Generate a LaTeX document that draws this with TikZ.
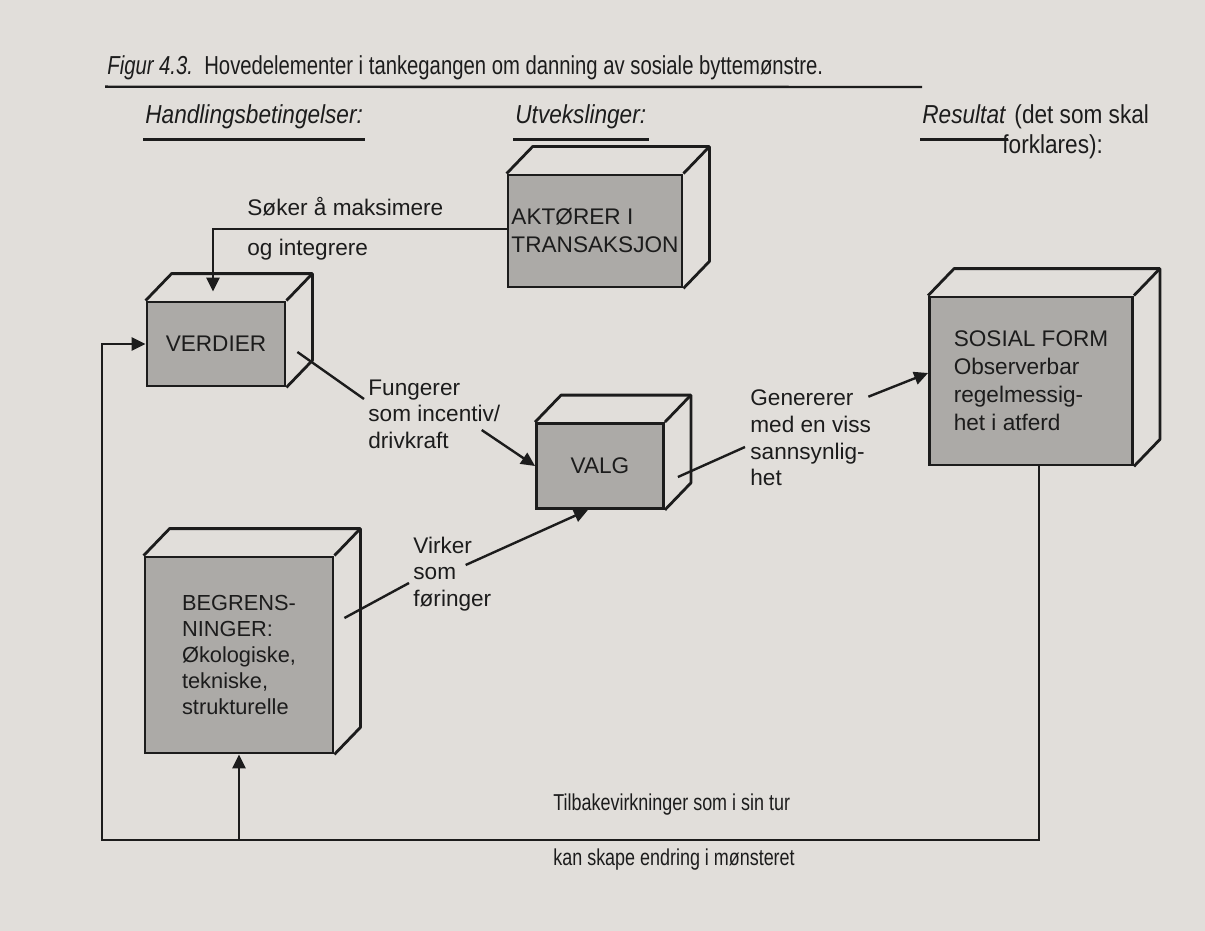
\documentclass[tikz,border=0pt]{standalone}
\usepackage{fontspec}
\setmainfont{Liberation Sans}
\newfontfamily\condfont{Liberation Sans}[FakeStretch=0.78]
\newfontfamily\headcond{Liberation Sans}[FakeStretch=0.87]
\usetikzlibrary{positioning,arrows.meta,calc}

\definecolor{paper}{RGB}{225,222,218}
\definecolor{boxfront}{RGB}{172,170,167}
\definecolor{ink}{RGB}{28,28,28}

\newcommand\boxfont{\fontsize{11.3}{14}\selectfont}
\newcommand\lblfont{\fontsize{11.3}{13.3}\selectfont}
\newcommand\titlefont{\condfont\fontsize{13}{15}\selectfont}
\newcommand\headfont{\headcond\fontsize{13}{15}\selectfont}
\newcommand\footfont{\condfont\fontsize{11.5}{14}\selectfont}

\tikzset{
  front/.style={draw=ink, line width=1.4pt, fill=boxfront, inner sep=0pt, align=left, font=\boxfont, text=ink},
  face/.style={draw=ink, line width=1.4pt, line join=round},
  lbl/.style={inner sep=0pt, anchor=west, align=left, font=\lblfont, text=ink},
  head/.style={inner xsep=1pt, inner ysep=5pt, text height=9.5pt, text depth=2.8pt, anchor=west, font=\headfont, text=ink},
  conn/.style={draw=ink, line width=1.2pt},
}

\begin{document}
\begin{tikzpicture}[x=0.5pt, y=-0.5pt, >={Triangle[length=7pt,width=6.5pt]}]
\fill[paper] (0,0) rectangle (1205,931);
\useasboundingbox (0,0) rectangle (1205,931);

% headings
\node[head, font=\titlefont, inner ysep=3pt] (title) at (105,68) {\itshape Figur 4.3.\upshape\ \ Hovedelementer i tankegangen om danning av sosiale byttemønstre.};
\coordinate (titleend) at (922,87);
\draw[conn] (title.south west) -- (titleend);
\node[head] (hand) at (143,117) {\itshape Handlingsbetingelser:};
\node[head] (utv) at (513,117) {\itshape Utvekslinger:};
\node[head] (res) at (920,117) {\itshape Resultat};
\node[head, anchor=west, inner xsep=0pt] (det) at (res.east) {\ (det som skal};
\node[head] (forkl) at (1000,147) {forklares):};
\foreach \h in {hand,utv,res}
  \draw[conn] (\h.south west) -- (\h.south east);

% boxes
\node[front, minimum width=87pt, minimum height=56pt] (akt) at (595,231) {AKTØRER I\\TRANSAKSJON};
\node[front, minimum width=69pt, minimum height=42pt] (verdier) at (216,344) {VERDIER};
\node[front, minimum width=63.5pt, minimum height=42.5pt] (valg) at (600,466) {VALG};
\node[front, minimum width=101.5pt, minimum height=84pt] (sosial) at (1031,381) {SOSIAL FORM\\Observerbar\\regelmessig-\\het i atferd};
\node[front, minimum width=94pt, minimum height=98pt, font=\fontsize{10.9}{13}\selectfont] (begr) at (239,655) {BEGRENS-\\NINGER:\\Økologiske,\\tekniske,\\strukturelle};
\foreach \b in {akt,verdier,valg,sosial,begr} {
  \draw[face] (\b.north west) -- ++(26,-27) -| ($(\b.south east)+(26,-27)$) -- (\b.south east);
  \draw[face] (\b.north east) -- ++(26,-27);
}

% labels
\node[lbl] (soker) at (247,207) {Søker å maksimere};
\node[lbl] (integr) at (247,250) {og integrere};
\node[lbl] (fung) at (368,414) {Fungerer\\som incentiv/\\drivkraft};
\node[lbl] (virk) at (413,574) {Virker\\som\\føringer};
\node[lbl] (gen) at (750,438) {Genererer\\med en viss\\sannsynlig-\\het};
\node[lbl, font=\footfont] (tilb) at (553,805) {Tilbakevirkninger som i sin tur};
\node[lbl, font=\footfont] (kan) at (553,860) {kan skape endring i mønsteret};

% connectors
\draw[conn,->] ([yshift=1pt]akt.west) -| ([shift={(-1.5pt,4.5pt)}]verdier.north);
\draw[conn] ([shift={(5.5pt,-4pt)}]verdier.east) -- ([shift={(-2pt,7.5pt)}]fung.west);
\draw[conn,->] ([shift={(-9.5pt,-8pt)}]fung.east) -- (valg.west);
\draw[conn] ([shift={(5pt,18.5pt)}]begr.east) -- ([shift={(-2pt,-4.5pt)}]virk.west);
\draw[conn,->] ([shift={(-13pt,4.5pt)}]virk.east) -- ([xshift=-6pt]valg.south);
\draw[conn] ([shift={(6.5pt,-5.5pt)}]valg.east) -- ([shift={(-2.5pt,-4.5pt)}]gen.west);
\draw[conn,->] ([shift={(-1.5pt,-3.5pt)}]gen.north east) -- ([yshift=4pt]sosial.west);

% feedback
\coordinate (cornerL) at (102,840);
\draw[conn,->] ([xshift=4pt]sosial.south) |- (cornerL) |- (verdier.west);
\draw[conn,->] (begr.south |- cornerL) -- (begr.south);
\end{tikzpicture}
\end{document}
